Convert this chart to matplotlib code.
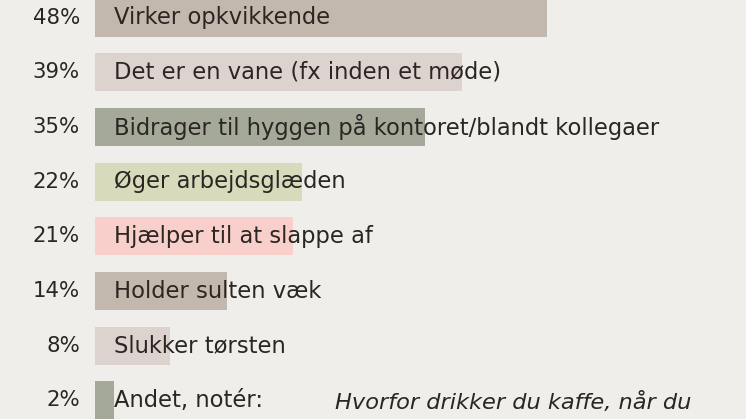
import matplotlib.pyplot as plt

labels = ['Virker opkvikkende', 'Det er en vane (fx inden et møde)',
          'Bidrager til hyggen på kontoret/blandt kollegaer', 'Øger arbejdsglæden',
          'Hjælper til at slappe af', 'Holder sulten væk', 'Slukker tørsten', 'Andet, notér:']
values = [48, 39, 35, 22, 21, 14, 8, 2]
colors = ['#c3b8ad', '#ddd3ce', '#a4a99a', '#d7dbbb', '#f9cfcc', '#c3b8ad', '#ddd3ce', '#a4a99a']

bg = '#efeeea'
txt = '#2b2622'

fig = plt.figure(figsize=(7.46, 4.19), dpi=100, facecolor=bg)
ax = fig.add_axes([0, 0, 1, 1])
ax.set_facecolor(bg)

pos = list(range(len(values)))
ax.barh(pos, values, height=0.695, color=colors)

for i, (lab, v) in enumerate(zip(labels, values)):
    ax.text(-1.6, i, f'{v}%', ha='right', va='center', fontsize=15.3, color=txt)
    ax.text(2.0, i, lab, ha='left', va='center', fontsize=16.3, color=txt)

ax.text(25.5, 7.03, 'Hvorfor drikker du kaffe, når du', ha='left', va='center',
        fontsize=16.2, style='italic', color=txt)

ax.set_xlim(-10.08, 69.1)
ax.set_ylim(7.34, -0.32)
ax.axis('off')

plt.savefig('out.png', dpi=100, facecolor=bg)
